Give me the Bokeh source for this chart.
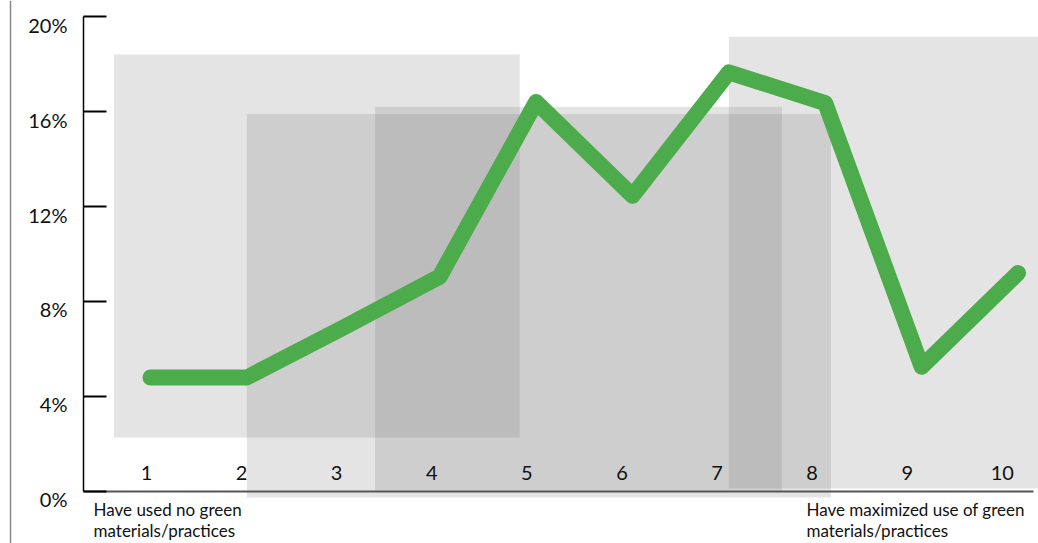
from bokeh.plotting import figure
from bokeh.models import Range1d, LinearAxis, FixedTicker, PrintfTickFormatter, Span, Label
from bokeh.embed import file_html
from bokeh.resources import INLINE

# ---- data ----
levels = [1, 2, 3, 4, 5, 6, 7, 8, 9, 10]
shares = [4.8, 4.8, 6.9, 9.05, 16.4, 12.45, 17.65, 16.35, 5.25, 9.2]
y_ticks = [0, 4, 8, 12, 16, 20]
low_label = ["Have used no green", "materials/practices"]
high_label = ["Have maximized use of green", "materials/practices"]

# shaded bands (level / share extents)
band_left = [0.62, 2.0, 3.33, 7.0]
band_right = [4.83, 8.06, 7.55, 10.3]
band_top = [18.4, 15.9, 16.2, 19.15]
band_bottom = [2.27, -0.25, 0.04, 0.13]

FONT = "Lato"

p = figure(width=1038, height=543,
           x_range=Range1d(-0.556, 10.212), y_range=Range1d(-2.189, 20.674),
           output_backend="svg", toolbar_location=None,
           x_axis_type=None, y_axis_type=None, min_border=0)
p.outline_line_color = None
p.background_fill_color = "white"
p.border_fill_color = "white"
p.extra_x_ranges = {"xlab": Range1d(-0.535, 10.380)}
p.extra_y_ranges = {"ylab": Range1d(-1.853, 21.011)}

# bands
p.quad(left=band_left, right=band_right, top=band_top, bottom=band_bottom,
       fill_color="#6d6d6d", fill_alpha=0.185, line_color=None)

# main line
p.line(levels, shares, line_color="#4cab4a", line_width=16,
       line_join="round", line_cap="round")

# y axis (line + inward ticks)
yax = LinearAxis(fixed_location=0.305, bounds=(0, 20),
                 ticker=FixedTicker(ticks=y_ticks),
                 major_tick_in=23, major_tick_out=0,
                 major_tick_line_width=2, major_tick_line_color="black",
                 axis_line_color="black", axis_line_width=1.5,
                 minor_tick_line_color=None,
                 major_label_text_color=None)
p.add_layout(yax, "left")

# y labels
ylab = LinearAxis(y_range_name="ylab", fixed_location=0.305,
                  ticker=FixedTicker(ticks=y_ticks),
                  formatter=PrintfTickFormatter(format="%d%%"),
                  axis_line_color=None, major_tick_line_color=None,
                  minor_tick_line_color=None, major_tick_in=0, major_tick_out=0,
                  major_label_standoff=16,
                  major_label_text_font=FONT, major_label_text_font_size="20px",
                  major_label_text_color="#111111")
p.add_layout(ylab, "left")

# x axis with labels above the line
xax = LinearAxis(x_range_name="xlab", fixed_location=0,
                 bounds=(0.3375, 10.327),
                 ticker=FixedTicker(ticks=levels),
                 axis_line_color="#555555", axis_line_width=2,
                 major_tick_line_color=None, minor_tick_line_color=None,
                 major_tick_in=0, major_tick_out=0,
                 major_label_standoff=12,
                 major_label_text_font=FONT, major_label_text_font_size="20px",
                 major_label_text_color="#111111")
p.add_layout(xax, "above")

# left border line
p.add_layout(Span(location=-0.452, dimension="height",
                  line_color="#888888", line_width=1.5))

# end-of-scale captions
for xpos, lines in ((0.409, low_label), (7.805, high_label)):
    for ypos, txt in zip((-0.76, -1.66), lines):
        p.add_layout(Label(x=xpos, y=ypos, text=txt, text_font=FONT,
                           text_font_size="17px", text_color="#111111",
                           text_align="left", text_baseline="alphabetic"))

open("out.html", "w").write(file_html(p, INLINE))
